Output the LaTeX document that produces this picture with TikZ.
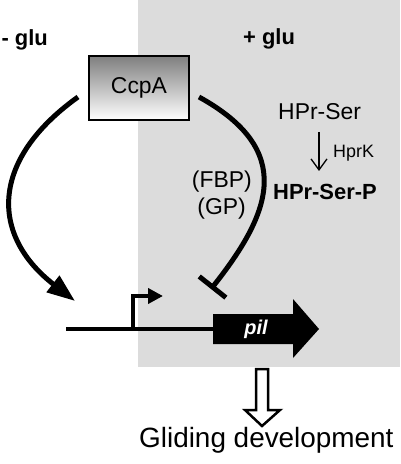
\documentclass[tikz,border=0pt]{standalone}
\usepackage{fontspec}
\setmainfont{Liberation Sans}
\usetikzlibrary{arrows.meta}
\definecolor{shadegray}{RGB}{220,220,220}
\tikzset{
  lbl/.style={inner sep=0pt, font=\fontsize{23}{25}\selectfont},
  blbl/.style={inner sep=0pt, font=\bfseries\fontsize{22}{24}\selectfont},
  smlbl/.style={inner sep=0pt, font=\fontsize{18}{20}\selectfont},
  boxnode/.style={draw=black, line width=2bp, top color=black!50, bottom color=white,
    minimum width=100bp, minimum height=64bp, inner sep=0pt, font=\fontsize{23}{25}\selectfont},
  curve/.style={line width=5bp},
  dna/.style={line width=4bp},
}
\begin{document}
\begin{tikzpicture}[x=1bp,y=-1bp]
\useasboundingbox (0,0) rectangle (400,464);
\fill[shadegray] (138,0) rectangle (400,367);
% labels
\node[blbl, anchor=base east] (minus) at (48,46) {- glu};
\node[blbl, anchor=base west] (plus) at (243,45) {+ glu};
\node[boxnode] (ccpa) at (139,88) {CcpA};
\node[lbl, anchor=base west] (hprser) at (278,120) {HPr-Ser};
\node[smlbl, anchor=base west] (hprk) at (333,158) {HprK};
\node[blbl, anchor=base west] (hprserp) at (273,200) {HPr-Ser-P};
\node[lbl, anchor=base east] (fbp) at (252,188) {(FBP)};
\node[lbl, anchor=base east] (gp) at (246,215) {(GP)};
\node[inner sep=0pt, font=\fontsize{28}{30}\selectfont, anchor=base west] (glide) at (139,447) {Gliding development};
% coordinates
\coordinate (hs) at (319,132);
\coordinate (he) at (319,171);
\coordinate (lstart) at (78,97);
\coordinate (lend) at (75,301);
\coordinate (rstart) at (199,97);
\coordinate (rend) at (211,289);
\coordinate (g0) at (66,329);
\coordinate (g1) at (215,329);
\coordinate (pbase) at (133,329);
\coordinate (ptop) at (133,296);
\coordinate (ptip) at (163,296);
% HprK arrow
\draw[line width=1.3bp, -{Straight Barb[length=11bp,width=16bp]}] (hs) -- (he);
% curves
\draw[curve, -{Triangle[length=28bp,width=20bp]}] (lstart) .. controls (-10,160) and (-10,235) .. (lend);
\draw[curve, -{Bar[width=34bp,line width=5bp]}] (rstart) .. controls (295,150) and (272,212) .. (rend);
% gene
\draw[dna] (g0) -- (g1);
\draw[dna, -{Triangle[length=15bp,width=15bp]}] (pbase) -- (ptop) -- (ptip);
\fill[black] (213,314) -- (293,314) -- (293,299) -- (319,329) -- (293,358) -- (293,344) -- (213,344) -- cycle;
\node[text=white, inner sep=0pt, font=\bfseries\itshape\fontsize{20}{22}\selectfont] (pil) at (256,329) {pil};
% hollow arrow
\draw[line width=2.5bp, fill=white, line join=miter] (256,369) -- (268,369) -- (268,410) -- (280,410) -- (262,426) -- (245,410) -- (256,410) -- cycle;
\end{tikzpicture}
\end{document}
